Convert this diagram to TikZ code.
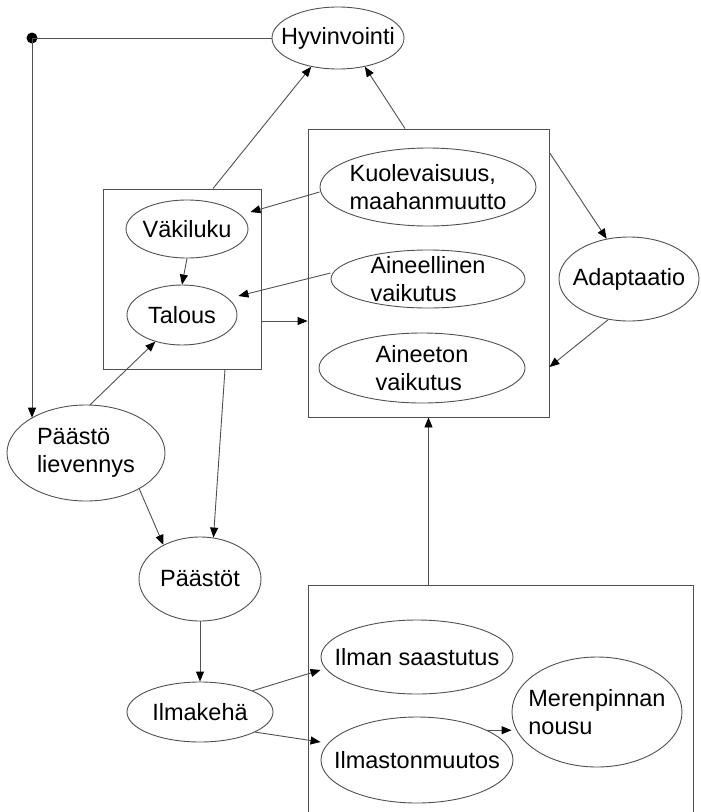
\documentclass[tikz,border=0pt]{standalone}
\usepackage{fontspec}
\setmainfont{Liberation Sans}
\usetikzlibrary{shapes.geometric,arrows.meta,calc}
\definecolor{lncol}{RGB}{80,80,80}
\begin{document}
\begin{tikzpicture}[x=1pt,y=-1pt,
  el/.style={ellipse,draw=lncol,line width=0.9pt,inner sep=-20pt,align=left,
    font=\fontsize{23.5}{27.5}\selectfont},
  bx/.style={rectangle,draw=lncol,line width=0.9pt,inner sep=0pt},
  plain/.style={draw=lncol,line width=0.9pt},
  arr/.style={draw=lncol,line width=0.9pt,-{Triangle[length=10pt,width=8pt,color=black]}}]
\clip (0,0) rectangle (701,812);
% boxes
\node[bx,minimum width=158pt,minimum height=180pt] (lbox) at (182,279) {};
\node[bx,minimum width=241pt,minimum height=288pt] (rbox) at (428.5,273) {};
\node[bx,minimum width=385pt,minimum height=245pt] (bbox) at (500.5,707.5) {};
% ellipses
\node[el,minimum width=132pt,minimum height=62pt] (hyv) at (338,38) {Hyvinvointi};
\node[el,minimum width=122pt,minimum height=58pt] (vak) at (187,229) {Väkiluku};
\node[el,minimum width=110pt,minimum height=60pt] (tal) at (182,315) {Talous};
\node[el,minimum width=216pt,minimum height=78pt] (kuo) at (428,187) {Kuolevaisuus,\\maahanmuutto};
\node[el,minimum width=194pt,minimum height=58pt] (ain) at (428,279) {Aineellinen\\vaikutus};
\node[el,minimum width=206pt,minimum height=70pt] (ane) at (422,368) {Aineeton\\vaikutus};
\node[el,minimum width=140pt,minimum height=84pt] (ada) at (629,279) {Adaptaatio};
\node[el,minimum width=158pt,minimum height=96pt] (pl) at (86,453) {Päästö\\lievennys};
\node[el,minimum width=122pt,minimum height=84pt] (pst) at (200,579) {Päästöt};
\node[el,minimum width=146pt,minimum height=60pt] (ilm) at (200,712) {Ilmakehä};
\node[el,minimum width=192pt,minimum height=74pt] (ils) at (417,657) {Ilman saastutus};
\node[el,minimum width=192pt,minimum height=86pt] (ilc) at (417,760) {Ilmastonmuutos};
\node[el,minimum width=170pt,minimum height=110pt] (mer) at (597,712) {Merenpinnan\\nousu};
% dot
\coordinate (dot) at (32,38);
\fill[black] (dot) circle (5.5);
% connectors
\draw[plain] (dot) -- (hyv.west);
\draw[arr] (dot) -- (dot |- pl.147);
\draw[arr] ([xshift=31pt]lbox.north) -- (hyv.-133);
\draw[arr] ([xshift=-23.5pt]rbox.north) -- (hyv.-47);
\draw[arr] ([yshift=-5pt]kuo.west) -- ([xshift=2pt,yshift=17pt]vak.east);
\draw[arr] ([yshift=6pt]ain.west) -- ([xshift=1pt,yshift=19pt]tal.east);
\draw[arr] (vak.south) -- (tal.north);
\coordinate (lt) at ([yshift=-42pt]lbox.east);
\draw[arr] (lt) -- (lt -| rbox.west);
\draw[arr] ([yshift=-24pt]rbox.north east) -- (ada.119);
\draw[arr] (ada.-117) -- ([yshift=-94pt]rbox.east);
\draw[arr] (pl.85) -- (tal.-135);
\draw[arr] (pl.-34) -- (pst.137);
\draw[arr] ([xshift=43pt]lbox.south) -- (pst.72);
\draw[arr] (pst.south) -- (ilm.north);
\draw[arr] (ilm.22) -- ([yshift=-13pt]ils.west);
\draw[arr] (ilm.-20) -- ([yshift=18pt]ilc.west);
\coordinate (ict) at (ilc.23.5);
\draw[arr] (ict) -- (ict -| mer.west);
\draw[arr] (bbox.north -| rbox.south) -- (rbox.south);
\end{tikzpicture}
\end{document}
